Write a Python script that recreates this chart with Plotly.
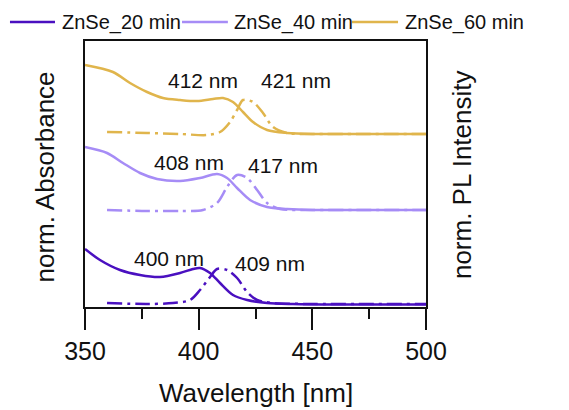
import plotly.graph_objects as go

# ---- data ----
series_names = ["ZnSe_20 min", "ZnSe_40 min", "ZnSe_60 min"]
colors = ["#4a10c0", "#a68cf6", "#e0b54c"]

wl_abs_20 = [350, 356.6, 365.4, 374.2, 383, 391.8, 397.5, 400.6, 405, 409.4, 415.1, 421.3, 430.1, 441.5, 460, 500]
abs_20 = [0.58, 0.47, 0.37, 0.32, 0.30, 0.34, 0.38, 0.39, 0.34, 0.24, 0.12, 0.07, 0.04, 0.03, 0.025, 0.025]
wl_pl_20 = [359.7, 377.3, 388.7, 396.2, 400.6, 405, 408.1, 412.5, 416.9, 421.3, 425.7, 432.7, 450, 470, 500]
pl_20 = [0.04, 0.03, 0.04, 0.07, 0.17, 0.30, 0.38, 0.37, 0.29, 0.15, 0.07, 0.04, 0.03, 0.03, 0.03]

wl_abs_40 = [350, 359.7, 366.7, 374.2, 381.7, 391.8, 400.6, 408.1, 412.5, 416.9, 422.6, 430.1, 438.9, 450, 470, 500]
abs_40 = [1.60, 1.54, 1.44, 1.34, 1.28, 1.26, 1.29, 1.33, 1.29, 1.19, 1.07, 1.00, 0.98, 0.97, 0.97, 0.97]
wl_pl_40 = [359.7, 377.3, 391.8, 401.9, 408.1, 412.5, 416.9, 421.3, 425.7, 430.1, 435.8, 450, 470, 500]
pl_40 = [0.97, 0.96, 0.96, 0.97, 1.04, 1.20, 1.32, 1.29, 1.17, 1.04, 0.98, 0.97, 0.97, 0.97]

wl_abs_60 = [350, 362.3, 369.8, 377.3, 384.3, 391.8, 399.3, 406.3, 410.7, 415.1, 419.5, 423.9, 430.1, 438.9, 450, 470, 500]
abs_60 = [2.42, 2.35, 2.24, 2.15, 2.09, 2.07, 2.06, 2.08, 2.09, 2.05, 1.95, 1.85, 1.77, 1.74, 1.73, 1.73, 1.73]
wl_pl_60 = [359.7, 377.3, 391.8, 403.7, 409.4, 413.8, 416.9, 419.5, 423.9, 428.3, 432.7, 438.9, 450, 470, 500]
pl_60 = [1.75, 1.74, 1.73, 1.72, 1.75, 1.85, 1.97, 2.07, 2.05, 1.94, 1.80, 1.74, 1.73, 1.73, 1.73]

peak_labels = ["400 nm", "409 nm", "408 nm", "417 nm", "412 nm", "421 nm"]
peak_label_x = [387, 431.4, 395.7, 437.1, 401.9, 442.8]
peak_label_y = [0.49, 0.44, 1.45, 1.42, 2.27, 2.27]

tick_vals = [350, 400, 450, 500]

FONT = "Liberation Sans, Arial, sans-serif"

fig = go.Figure()
abs_sets = [(wl_abs_20, abs_20), (wl_abs_40, abs_40), (wl_abs_60, abs_60)]
pl_sets = [(wl_pl_20, pl_20), (wl_pl_40, pl_40), (wl_pl_60, pl_60)]
for name, col, (xa, ya), (xp, yp) in zip(series_names, colors, abs_sets, pl_sets):
    fig.add_trace(go.Scatter(x=xa, y=ya, mode="lines", name=name,
                             line=dict(color=col, width=2.5, shape="spline", smoothing=0.85),
                             showlegend=False))
    fig.add_trace(go.Scatter(x=xp, y=yp, mode="lines", name=name + " PL",
                             line=dict(color=col, width=2.5, shape="spline", smoothing=0.85,
                                       dash="15px,5px,3px,5px"),
                             showlegend=False))

annotations = []
for t, x, y in zip(peak_labels, peak_label_x, peak_label_y):
    annotations.append(dict(x=x, y=y, xref="x", yref="y", text=t, showarrow=False,
                            font=dict(family=FONT, size=21, color="#111")))

# manual legend (text); line samples drawn as shapes
leg_y = 1.0714
leg_line_x = [(-0.22, -0.088), (0.2845, 0.419), (0.783, 0.918)]
leg_text_x = [-0.0733, 0.431, 0.9326]
shapes = []
for name, col, (x0, x1), tx in zip(series_names, colors, leg_line_x, leg_text_x):
    shapes.append(dict(type="line", xref="paper", yref="paper", x0=x0, x1=x1, y0=leg_y, y1=leg_y,
                       line=dict(color=col, width=2.5)))
    annotations.append(dict(x=tx, y=leg_y, xref="paper", yref="paper", text=name, showarrow=False,
                            xanchor="left", yanchor="middle",
                            font=dict(family=FONT, size=20, color="#111")))

annotations.append(dict(x=-0.1173, y=0.487, xref="paper", yref="paper", text="norm. Absorbance",
                        textangle=-90, showarrow=False, xanchor="center", yanchor="middle",
                        font=dict(family=FONT, size=26, color="#111")))
annotations.append(dict(x=1.1056, y=0.496, xref="paper", yref="paper", text="norm. PL Intensity",
                        textangle=-90, showarrow=False, xanchor="center", yanchor="middle",
                        font=dict(family=FONT, size=26, color="#111")))
annotations.append(dict(x=0.5, y=-0.322, xref="paper", yref="paper", text="Wavelength [nm]",
                        showarrow=False, xanchor="center", yanchor="middle",
                        font=dict(family=FONT, size=26, color="#111")))

fig.update_layout(
    width=569, height=410,
    margin=dict(l=85, r=143, t=41, b=103),
    paper_bgcolor="white", plot_bgcolor="white",
    font=dict(family=FONT, color="#111"),
    annotations=annotations, shapes=shapes,
    xaxis=dict(range=[350, 500], tickvals=tick_vals, ticks="outside", ticklen=21, tickwidth=2,
               tickcolor="#111", showline=True, linewidth=2, linecolor="#111", mirror=True,
               showgrid=False, zeroline=False, tickfont=dict(family=FONT, size=25, color="#111"),
               automargin=False,
               minor=dict(dtick=25, ticks="outside", ticklen=10, tickwidth=2, tickcolor="#111",
                          showgrid=False)),
    yaxis=dict(range=[0, 2.66], showticklabels=False, ticks="", showline=True, linewidth=2,
               linecolor="#111", mirror=True, showgrid=False, zeroline=False, automargin=False),
)

fig.write_html("out.html")
